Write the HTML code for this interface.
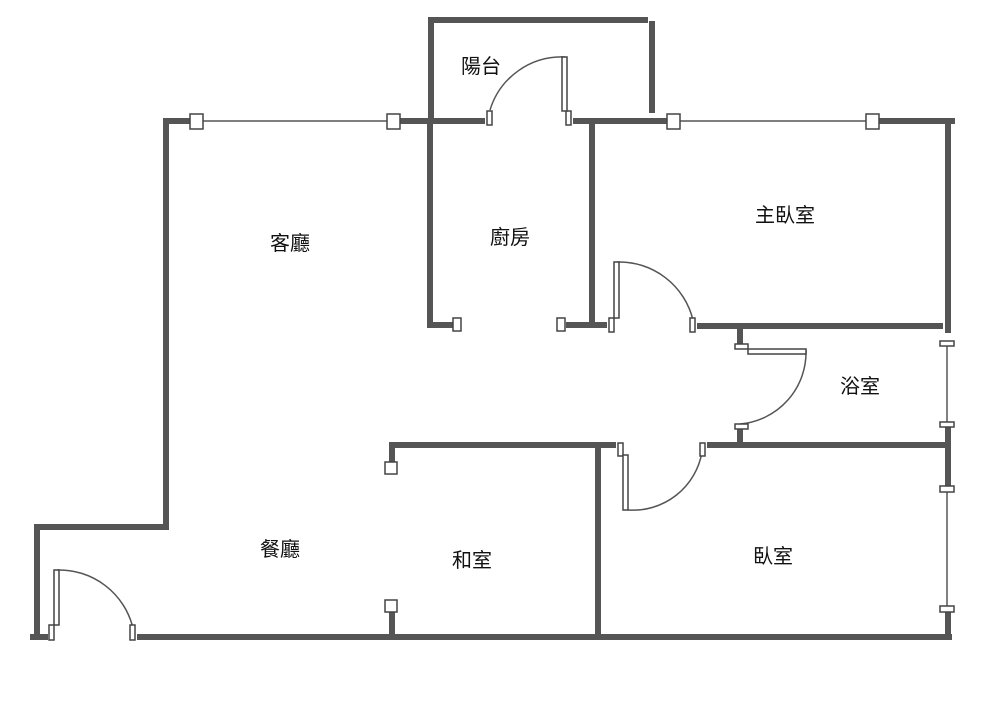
<!DOCTYPE html>
<html><head><meta charset="utf-8"><style>
body{margin:0;background:#fff;width:1000px;height:721px;overflow:hidden}
svg{display:block}
text{font-family:"Liberation Sans","Noto Sans CJK TC",sans-serif;font-size:20px;fill:#111;text-anchor:middle}
</style></head><body>
<svg width="1000" height="721" viewBox="0 0 1000 721">
<g stroke="#555" stroke-width="6" fill="none" stroke-linecap="butt">
<!-- top left -->
<line x1="163" y1="121" x2="190" y2="121"/>
<line x1="400" y1="121" x2="485" y2="121"/>
<line x1="166" y1="124" x2="166" y2="530"/>
<line x1="34" y1="527" x2="169" y2="527"/>
<line x1="37" y1="524" x2="37" y2="640"/>
<line x1="30" y1="637" x2="48" y2="637"/>
<line x1="137" y1="637" x2="952" y2="637"/>
<!-- balcony -->
<line x1="431" y1="18" x2="431" y2="118"/>
<line x1="428" y1="20" x2="648" y2="20"/>
<line x1="652" y1="21" x2="652" y2="113"/>
<!-- top right -->
<line x1="573" y1="121" x2="667" y2="121"/>
<line x1="879" y1="121" x2="955" y2="121"/>
<line x1="948" y1="118" x2="948" y2="333"/>
<line x1="948" y1="427" x2="948" y2="488"/>
<line x1="948" y1="612" x2="948" y2="640"/>
<!-- kitchen -->
<line x1="430" y1="118" x2="430" y2="328"/>
<line x1="427" y1="325" x2="453" y2="325"/>
<line x1="592" y1="121" x2="592" y2="328"/>
<line x1="566" y1="325" x2="607" y2="325"/>
<line x1="697" y1="326" x2="943" y2="326"/>
<!-- bath -->
<line x1="740" y1="326" x2="740" y2="344"/>
<line x1="740" y1="429" x2="740" y2="445"/>
<!-- middle -->
<line x1="390" y1="445" x2="616" y2="445"/>
<line x1="707" y1="445" x2="951" y2="445"/>
<line x1="598" y1="445" x2="598" y2="637"/>
<line x1="392" y1="442" x2="392" y2="462"/>
<line x1="392" y1="612" x2="392" y2="637"/>
</g>
<g stroke="#555" stroke-width="1.5" fill="none">
<line x1="203" y1="121" x2="387" y2="121"/>
<line x1="680" y1="121" x2="866" y2="121"/>
<line x1="947" y1="346" x2="947" y2="424"/>
<line x1="947" y1="492" x2="947" y2="608"/>
<!-- arcs -->
<path d="M490 110 A75 75 0 0 1 565 57"/>
<path d="M617 262 A76 76 0 0 1 693 320"/>
<path d="M806 350 A72 72 0 0 1 740 424"/>
<path d="M628 510 A70 70 0 0 0 702 452"/>
<path d="M57 570 A76 76 0 0 1 133 628"/>
</g>
<g stroke="#444" stroke-width="1.5" fill="#fff">
<rect x="190" y="114" width="13" height="15"/>
<rect x="387" y="114" width="13" height="15"/>
<rect x="667" y="114" width="13" height="15"/>
<rect x="866" y="114" width="13" height="15"/>
<rect x="940" y="341" width="14" height="5"/>
<rect x="940" y="422" width="14" height="5"/>
<rect x="940" y="486" width="14" height="6"/>
<rect x="940" y="606" width="14" height="6"/>
<rect x="453" y="318" width="8" height="13"/>
<rect x="557" y="318" width="8" height="13"/>
<rect x="385" y="462" width="12" height="12"/>
<rect x="385" y="600" width="12" height="12"/>
<!-- balcony door -->
<rect x="487" y="111" width="5" height="14"/>
<rect x="566" y="111" width="5" height="14"/>
<rect x="562" y="57" width="5" height="54"/>
<!-- master door -->
<rect x="609" y="318" width="5" height="14"/>
<rect x="690" y="318" width="5" height="14"/>
<rect x="614" y="262" width="5" height="56"/>
<!-- bath door -->
<rect x="735" y="344" width="13" height="5"/>
<rect x="748" y="349" width="58" height="5"/>
<rect x="735" y="424" width="13" height="5"/>
<!-- bedroom door -->
<rect x="618" y="443" width="5" height="13"/>
<rect x="623" y="455" width="5" height="55"/>
<rect x="700" y="443" width="5" height="13"/>
<!-- entry door -->
<rect x="49" y="625" width="5" height="15"/>
<rect x="54" y="570" width="5" height="55"/>
<rect x="130" y="625" width="5" height="15"/>
</g>
<text x="481" y="73">陽台</text>
<text x="290" y="250">客廳</text>
<text x="510" y="244">廚房</text>
<text x="785" y="222">主臥室</text>
<text x="860" y="393">浴室</text>
<text x="280" y="556">餐廳</text>
<text x="472" y="567">和室</text>
<text x="773" y="563">臥室</text>
</svg>
</body></html>
